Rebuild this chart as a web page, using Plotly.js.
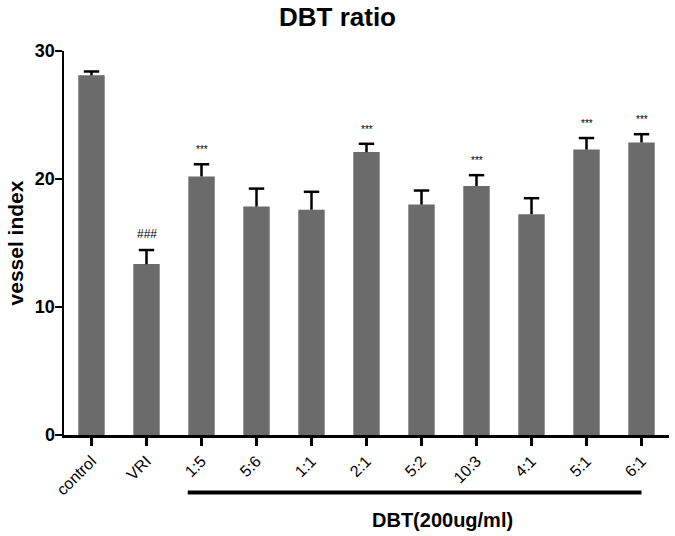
<!DOCTYPE html>
<html>
<head>
<meta charset="utf-8">
<script src="https://cdn.plot.ly/plotly-3.0.1.min.js"></script>
<style>html,body{margin:0;padding:0;background:#fff;}#chart{width:675px;height:536px;}</style>
</head>
<body>
<div id="chart"></div>
<script>
const categories = ["control", "VRI", "1:5", "5:6", "1:1", "2:1", "5:2", "10:3", "4:1", "5:1", "6:1"];
const vesselIndex = [28.1, 13.35, 20.2, 17.85, 17.6, 22.1, 18.0, 19.45, 17.25, 22.3, 22.85];
const sem = [0.3, 1.1, 0.95, 1.4, 1.4, 0.65, 1.1, 0.85, 1.25, 0.9, 0.65];
const marks = ["", "###", "***", "", "", "***", "", "***", "", "***", "***"];
const yTicks = [0, 10, 20, 30];

const FONT = "Liberation Sans, Arial, sans-serif";

const bars = {
  type: "bar",
  x: categories,
  y: vesselIndex,
  marker: {color: "#6b6b6b"},
  width: 0.48
};

// upper-only error bars: stems from mean to mean+SEM, cap at the top
const stemX = [], stemY = [];
categories.forEach((c, i) => {
  stemX.push(c, c, null);
  stemY.push(vesselIndex[i], vesselIndex[i] + sem[i], null);
});
const stems = {
  type: "scatter", mode: "lines", x: stemX, y: stemY,
  line: {color: "#000", width: 2.5}
};
const caps = {
  type: "scatter", mode: "markers", x: categories,
  y: vesselIndex.map((v, i) => v + sem[i]),
  marker: {symbol: "line-ew-open", size: 11, color: "#000", line: {color: "#000", width: 2.5}}
};

const annotations = [];
categories.forEach((c, i) => {
  if (marks[i]) {
    annotations.push({
      x: c, y: vesselIndex[i] + sem[i], xref: "x", yref: "y",
      text: marks[i], showarrow: false, yanchor: "bottom", yshift: 7,
      font: {family: FONT, size: marks[i] === "###" ? 12 : 10, color: "#000"}
    });
  }
});
annotations.push({
  x: 0.626, y: -0.222, xref: "paper", yref: "paper",
  text: "<b>DBT(200ug/ml)</b>", showarrow: false,
  xanchor: "center", yanchor: "middle",
  font: {family: FONT, size: 20, color: "#000"}
});

const layout = {
  width: 675, height: 536,
  margin: {l: 64, r: 6, t: 51, b: 101},
  showlegend: false,
  title: {
    text: "<b>DBT ratio</b>",
    font: {family: FONT, size: 26, color: "#000"}
  },
  xaxis: {
    type: "category",
    range: [-0.5, 10.5],
    tickangle: -45,
    tickfont: {family: FONT, size: 16, color: "#000"},
    showline: true, linecolor: "#000", linewidth: 2.5,
    ticks: "outside", ticklen: 8, tickwidth: 2.5, tickcolor: "#000",
    showgrid: false, zeroline: false
  },
  yaxis: {
    range: [0, 30],
    tickvals: yTicks,
    ticktext: yTicks.map(v => "<b>" + v + "</b>"),
    showline: true, linecolor: "#000", linewidth: 2.5,
    ticks: "outside", ticklen: 7, tickwidth: 2.5, tickcolor: "#000",
    ticklabelstandoff: -4,
    tickfont: {family: FONT, size: 18, color: "#000"},
    showgrid: false, zeroline: false,
    title: {text: "<b>vessel index</b>", font: {family: FONT, size: 21, color: "#000"}, standoff: 6}
  },
  shapes: [{
    type: "line", xref: "x", yref: "paper",
    x0: 1.75, x1: 10, y0: -0.15, y1: -0.15,
    line: {color: "#000", width: 4}
  }],
  annotations: annotations
};

Plotly.newPlot("chart", [bars, stems, caps], layout, {displayModeBar: false, staticPlot: true});
</script>
</body>
</html>
